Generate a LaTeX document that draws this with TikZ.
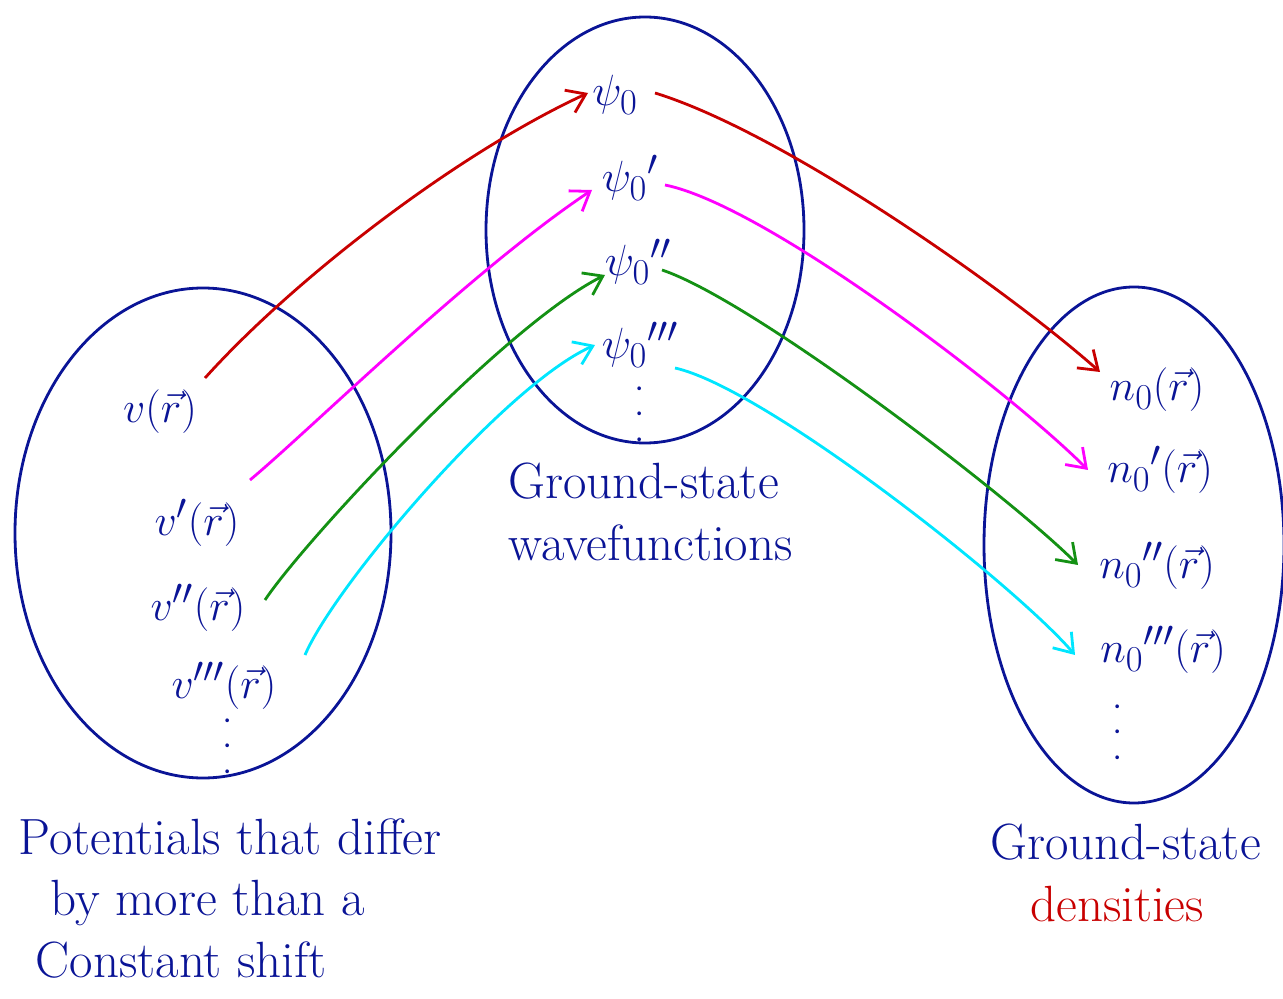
\documentclass[tikz,border=0pt]{standalone}
\usetikzlibrary{arrows.meta}
\definecolor{navy}{RGB}{10,20,150}
\definecolor{redc}{RGB}{200,0,0}
\definecolor{magc}{RGB}{255,0,255}
\definecolor{grnc}{RGB}{20,145,20}
\definecolor{cyac}{RGB}{0,230,255}
\tikzset{
  lbl/.style={text=navy,font=\fontsize{31}{36}\selectfont},
  txt/.style={text=navy,font=\fontsize{29}{35}\selectfont,align=left,inner sep=0pt},
  setring/.style={draw=navy,line width=1.6pt},
  mapto/.style={line width=1.6pt,-{Straight Barb[length=10pt,width=14pt,line width=1.6pt]}},
  dotsn/.style={text=navy,font=\fontsize{26}{28}\selectfont,inner sep=0pt,rotate=90}
}
\newcommand{\spreaddots}{.\hspace{0.28cm}.\hspace{0.28cm}.}
\begin{document}
\begin{tikzpicture}[x=0.02cm,y=-0.02cm]
\useasboundingbox (0,0) rectangle (1283,999);
% sets
\draw[setring] (203,533) ellipse [x radius=188,y radius=245];
\draw[setring] (645,230) ellipse [x radius=159,y radius=213];
\draw[setring] (1134,545) ellipse [x radius=150,y radius=258];
% potentials
\node[lbl] (v0) at (160,412) {$v(\vec r)$};
\node[lbl] (v1) at (197,523) {$v'(\vec r)$};
\node[lbl] (v2) at (198,608) {$v''(\vec r)$};
\node[lbl] (v3) at (224,686) {$v'''(\vec r)$};
\node[dotsn] (vd) at (228,746) {\spreaddots};
% wavefunctions
\node[lbl] (p0) at (615,95) {$\psi_0$};
\node[lbl] (p1) at (630,178) {$\psi_0{}'$};
\node[lbl] (p2) at (638,262) {$\psi_0{}''$};
\node[lbl] (p3) at (640,345) {$\psi_0{}'''$};
\node[dotsn] (pd) at (640,414) {\spreaddots};
% densities
\node[lbl] (n0) at (1157,390) {$n_0(\vec r)$};
\node[lbl] (n1) at (1160,470) {$n_0{}'(\vec r)$};
\node[lbl] (n2) at (1157,566) {$n_0{}''(\vec r)$};
\node[lbl] (n3) at (1163,650) {$n_0{}'''(\vec r)$};
\node[dotsn] (nd) at (1118,732) {\spreaddots};
% captions
\node[txt,anchor=north west] (capL) at (18,818) {Potentials that differ\\ \hspace{0.65cm}by more than a\\ \hspace{0.35cm}Constant shift};
\node[txt,anchor=north west] (capM) at (508,463) {Ground-state\\wavefunctions};
\node[txt,anchor=north west] (capR) at (990,824) {Ground-state\\ \hspace{0.8cm}\textcolor{redc}{densities}};
% connector end points
\coordinate (r1s) at (205,378); \coordinate (r1e) at (588,93);
\coordinate (r2s) at (655,93);  \coordinate (r2e) at (1100,372);
\coordinate (m1s) at (250,480); \coordinate (m1e) at (592,190);
\coordinate (m2s) at (665,185); \coordinate (m2e) at (1088,470);
\coordinate (g1s) at (265,600); \coordinate (g1e) at (605,275);
\coordinate (g2s) at (662,270); \coordinate (g2e) at (1078,565);
\coordinate (c1s) at (305,655); \coordinate (c1e) at (595,345);
\coordinate (c2s) at (675,368); \coordinate (c2e) at (1075,655);
% maps
\draw[mapto,redc] (r1s) .. controls +(90,-100) and +(-130,60) .. (r1e);
\draw[mapto,redc] (r2s) .. controls +(130,40) and +(-90,-80) .. (r2e);
\draw[mapto,magc] (m1s) .. controls +(60,-50) and +(-120,80) .. (m1e);
\draw[mapto,magc] (m2s) .. controls +(100,20) and +(-80,-80) .. (m2e);
\draw[mapto,grnc] (g1s) .. controls +(40,-60) and +(-100,50) .. (g1e);
\draw[mapto,grnc] (g2s) .. controls +(90,30) and +(-70,-70) .. (g2e);
\draw[mapto,cyac] (c1s) .. controls +(30,-70) and +(-90,40) .. (c1e);
\draw[mapto,cyac] (c2s) .. controls +(90,20) and +(-60,-70) .. (c2e);
\end{tikzpicture}
\end{document}
